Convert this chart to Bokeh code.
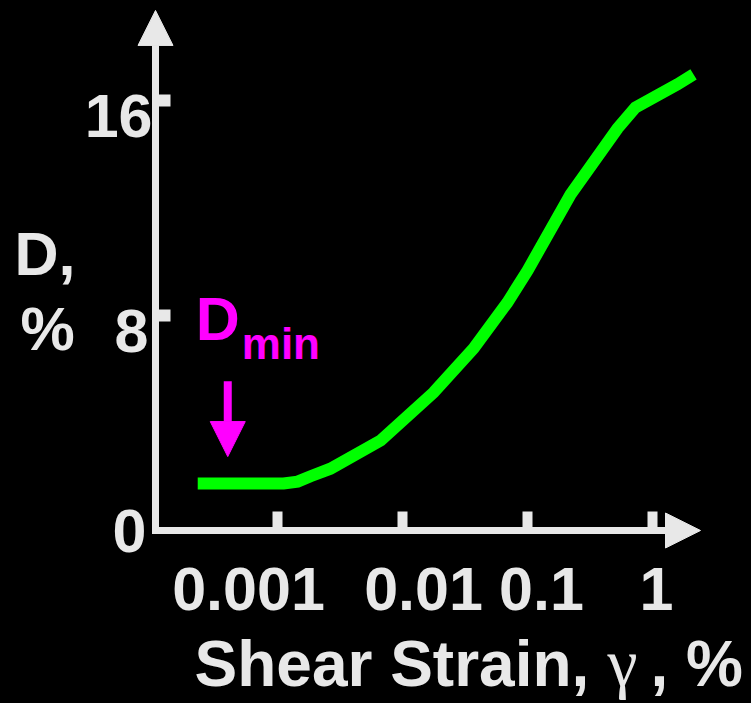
import math
from bokeh.plotting import figure
from bokeh.models import (Range1d, Arrow, NormalHead, ColumnDataSource,
                          LabelSet, Label)
from bokeh.core.properties import value
from bokeh.embed import file_html
from bokeh.resources import INLINE

# Damping ratio D (%) against shear strain (%)
strain_pct = [0.00023, 0.00112, 0.00145, 0.00184, 0.00265, 0.0067, 0.0177,
              0.037, 0.069, 0.1, 0.221, 0.525, 0.731, 1.585, 2.13]
damping_pct = [1.75, 1.75, 1.82, 2.02, 2.30, 3.35, 5.13,
               6.77, 8.48, 9.67, 12.5, 14.96, 15.74, 16.6, 16.97]

x_ticks = [0.001, 0.01, 0.1, 1]
x_tick_labels = ["0.001", "0.01", "0.1", "1"]
y_ticks = [0, 8, 16]
y_tick_labels = ["0", "8", "16"]

D_MIN = damping_pct[0]
DMIN_STRAIN = 0.0004          # strain where the D_min arrow sits

# hand-drawn axes: origin, arrow tips and the visible window
X_ORIGIN, X_TIP = 10 ** -3.976, 10 ** 0.384
Y_TIP = 19.35
X_VIEW = (10 ** -5.216, 10 ** 0.792)
Y_VIEW = (-6.437, 19.72)

AXIS = "#e8e8e8"
GREEN = "#00ff00"
MAGENTA = "#ff00ff"
SANS = "Liberation Sans"
SERIF = "Liberation Serif"

p = figure(width=751, height=703, x_axis_type="log",
           x_axis_location=None, y_axis_location=None,
           x_range=Range1d(*X_VIEW), y_range=Range1d(*Y_VIEW),
           output_backend="svg", toolbar_location=None, min_border=0,
           background_fill_color="black", border_fill_color="black",
           outline_line_color=None)
p.grid.visible = False
p.styles = {"background-color": "black"}

# axis lines with arrow heads
for x_end, y_end in ((X_TIP, 0), (X_ORIGIN, Y_TIP)):
    p.add_layout(Arrow(x_start=X_ORIGIN, y_start=0, x_end=x_end, y_end=y_end,
                       line_color=AXIS, line_width=7,
                       end=NormalHead(size=35, fill_color=AXIS,
                                      line_color=AXIS, line_width=1)))
# square corner where the two axes meet
p.scatter(x=[X_ORIGIN], y=[0], marker="square", size=7,
          fill_color=AXIS, line_color=None)

# tick marks, pointing into the plot
p.ray(x=x_ticks, y=[0] * len(x_ticks), length=19, length_units="screen",
      angle=math.pi / 2, line_color=AXIS, line_width=10)
y_marks = [t for t in y_ticks if t > 0]
p.ray(x=[X_ORIGIN] * len(y_marks), y=y_marks, length=15,
      length_units="screen", angle=0, line_color=AXIS, line_width=12)

# damping curve
p.line(strain_pct, damping_pct, line_color=GREEN, line_width=12,
       line_join="miter")

# tick labels
x_src = ColumnDataSource(dict(x=x_ticks, y=[0] * len(x_ticks),
                              text=x_tick_labels, dx=[-29, 21, 14, 4]))
p.add_layout(LabelSet(x="x", y="y", text="text", source=x_src,
                      x_offset="dx", y_offset=-80,
                      text_align="center", text_baseline="alphabetic",
                      text_font=value(SANS), text_font_style="bold",
                      text_font_size="61px", text_color=AXIS))

y_src = ColumnDataSource(dict(x=[X_ORIGIN] * len(y_ticks), y=y_ticks,
                              text=y_tick_labels, dx=[-9, -7, -3],
                              dy=[-22, -37, -37]))
p.add_layout(LabelSet(x="x", y="y", text="text", source=y_src,
                      x_offset="dx", y_offset="dy",
                      text_align="right", text_baseline="alphabetic",
                      text_font=value(SANS), text_font_style="bold",
                      text_font_size="61px", text_color=AXIS))


def note(text, x, y, dx, dy, size="61px", color=AXIS, font=SANS, style="bold"):
    p.add_layout(Label(x=x, y=y, x_offset=dx, y_offset=dy, text=text,
                       text_align="left", text_baseline="alphabetic",
                       text_font=font, text_font_style=style,
                       text_font_size=size, text_color=color))


# y axis title
note("D,", X_ORIGIN, 8, -141, 61)
note("%", X_ORIGIN, 8, -135, -14)

# x axis title
note("Shear Strain,", X_ORIGIN, 0, 39, -134, size="64px")
note("\u03b3", X_ORIGIN, 0, 452, -133, size="68px", font=SERIF, style="normal")
note(", %", X_ORIGIN, 0, 495, -134, size="64px")

# D_min marker
p.add_layout(Arrow(x_start=DMIN_STRAIN, y_start=D_MIN + 3.8,
                   x_end=DMIN_STRAIN, y_end=D_MIN + 1.0,
                   line_color=MAGENTA, line_width=8,
                   end=NormalHead(size=35, fill_color=MAGENTA,
                                  line_color=MAGENTA)))
note("D", DMIN_STRAIN, D_MIN, -32, 164, color=MAGENTA)
note("min", DMIN_STRAIN, D_MIN, 14, 140, size="44px", color=MAGENTA)

open("out.html", "w").write(file_html(p, INLINE))
